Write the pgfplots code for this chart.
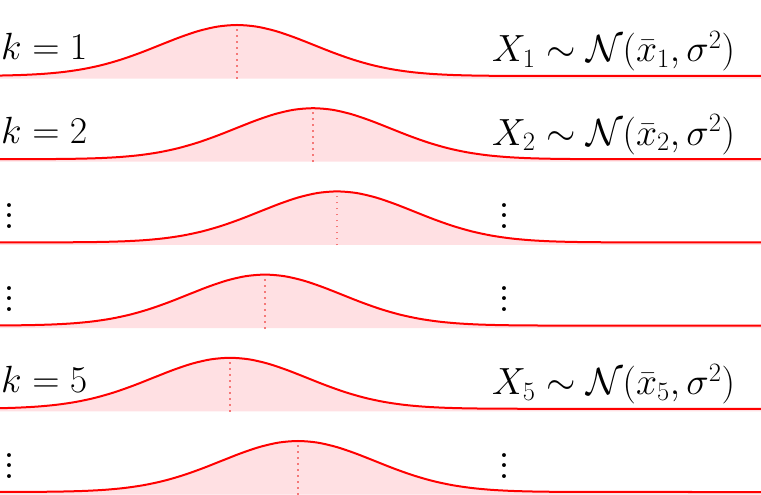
\documentclass[border=0pt]{standalone}
\usepackage{fix-cm}
\usepackage{pgfplots}
\usepackage{pgfplotstable}
\pgfplotsset{compat=1.18}

\definecolor{curvered}{RGB}{255,0,0}
\definecolor{pinkfill}{RGB}{255,224,227}
\definecolor{meanline}{RGB}{245,120,120}

% standard bell shape, z in sigma units, g = exp(-z^2/2)
\pgfplotstableread{
z g
-7 0
-5 0
-4.5 0.00004
-4 0.00034
-3.75 0.00088
-3.5 0.00219
-3.25 0.00509
-3 0.01111
-2.75 0.02279
-2.5 0.04394
-2.25 0.07956
-2 0.13534
-1.75 0.21627
-1.5 0.32465
-1.25 0.45783
-1 0.60653
-0.75 0.75484
-0.5 0.88250
-0.25 0.96923
0 1
0.25 0.96923
0.5 0.88250
0.75 0.75484
1 0.60653
1.25 0.45783
1.5 0.32465
1.75 0.21627
2 0.13534
2.25 0.07956
2.5 0.04394
2.75 0.02279
3 0.01111
3.25 0.00509
3.5 0.00219
3.75 0.00088
4 0.00034
4.5 0.00004
5 0
7 0
}\bell

% same shape closed along the bottom, for the shaded area
\pgfplotstableread{
z g
-7 -0.05
-7 0
-5 0
-4.5 0.00004
-4 0.00034
-3.75 0.00088
-3.5 0.00219
-3.25 0.00509
-3 0.01111
-2.75 0.02279
-2.5 0.04394
-2.25 0.07956
-2 0.13534
-1.75 0.21627
-1.5 0.32465
-1.25 0.45783
-1 0.60653
-0.75 0.75484
-0.5 0.88250
-0.25 0.96923
0 1
0.25 0.96923
0.5 0.88250
0.75 0.75484
1 0.60653
1.25 0.45783
1.5 0.32465
1.75 0.21627
2 0.13534
2.25 0.07956
2.5 0.04394
2.75 0.02279
3 0.01111
3.25 0.00509
3.5 0.00219
3.75 0.00088
4 0.00034
4.5 0.00004
5 0
7 0
7 -0.05
}\bellfill

\newcommand{\bigfont}{\fontsize{38}{40}\selectfont}
\newcommand{\vd}{\vbox{\fontsize{48}{48}\selectfont\baselineskip10.5bp\lineskiplimit-20bp\hbox{.}\hbox{.}\hbox{.}}}

\begin{document}
\begin{tikzpicture}
\begin{axis}[
    hide axis,
    scale only axis,
    width=761bp, height=495bp,
    xmin=0, xmax=761, ymin=0, ymax=495,
    enlargelimits=false,
]
% shaded areas
\addplot[fill=pinkfill, draw=none] table[x expr=237+77*\thisrow{z}, y expr=419+51*\thisrow{g}] {\bellfill};
\addplot[fill=pinkfill, draw=none] table[x expr=313+77*\thisrow{z}, y expr=335.8+51*\thisrow{g}] {\bellfill};
\addplot[fill=pinkfill, draw=none] table[x expr=337+77*\thisrow{z}, y expr=252.6+51*\thisrow{g}] {\bellfill};
\addplot[fill=pinkfill, draw=none] table[x expr=265+77*\thisrow{z}, y expr=169.4+51*\thisrow{g}] {\bellfill};
\addplot[fill=pinkfill, draw=none] table[x expr=230+77*\thisrow{z}, y expr=86.2+51*\thisrow{g}] {\bellfill};
\addplot[fill=pinkfill, draw=none] table[x expr=298+77*\thisrow{z}, y expr=3+51*\thisrow{g}] {\bellfill};

% mean lines
\addplot[meanline, line width=1.8bp, dash pattern=on 1.8bp off 4.2bp] coordinates {(237,416) (237,469)};
\addplot[meanline, line width=1.8bp, dash pattern=on 1.8bp off 4.2bp] coordinates {(313,332.8) (313,385.8)};
\addplot[meanline, line width=1.8bp, dash pattern=on 1.8bp off 4.2bp] coordinates {(337,249.6) (337,302.6)};
\addplot[meanline, line width=1.8bp, dash pattern=on 1.8bp off 4.2bp] coordinates {(265,166.4) (265,219.4)};
\addplot[meanline, line width=1.8bp, dash pattern=on 1.8bp off 4.2bp] coordinates {(230,83.2) (230,136.2)};
\addplot[meanline, line width=1.8bp, dash pattern=on 1.8bp off 4.2bp] coordinates {(298,0) (298,53)};

% curves
\addplot[curvered, line width=2bp, smooth] table[x expr=237+77*\thisrow{z}, y expr=419+51*\thisrow{g}] {\bell};
\addplot[curvered, line width=2bp, smooth] table[x expr=313+77*\thisrow{z}, y expr=335.8+51*\thisrow{g}] {\bell};
\addplot[curvered, line width=2bp, smooth] table[x expr=337+77*\thisrow{z}, y expr=252.6+51*\thisrow{g}] {\bell};
\addplot[curvered, line width=2bp, smooth] table[x expr=265+77*\thisrow{z}, y expr=169.4+51*\thisrow{g}] {\bell};
\addplot[curvered, line width=2bp, smooth] table[x expr=230+77*\thisrow{z}, y expr=86.2+51*\thisrow{g}] {\bell};
\addplot[curvered, line width=2bp, smooth] table[x expr=298+77*\thisrow{z}, y expr=3+51*\thisrow{g}] {\bell};

% labels
\node[anchor=base west, inner sep=0] at (axis cs:1,435) {\bigfont $k=1$};
\node[anchor=base west, inner sep=0] at (axis cs:1,351.8) {\bigfont $k=2$};
\node[anchor=base west, inner sep=0] at (axis cs:1,102.2) {\bigfont $k=5$};
\node[anchor=base west, inner sep=0] at (axis cs:492,433) {\bigfont $X_1\sim\mathcal{N}(\bar{x}_1,\sigma^2)$};
\node[anchor=base west, inner sep=0] at (axis cs:492,349.8) {\bigfont $X_2\sim\mathcal{N}(\bar{x}_2,\sigma^2)$};
\node[anchor=base west, inner sep=0] at (axis cs:492,100.2) {\bigfont $X_5\sim\mathcal{N}(\bar{x}_5,\sigma^2)$};

\node[anchor=north, inner sep=0] at (axis cs:9,292) {\vd};
\node[anchor=north, inner sep=0] at (axis cs:9,209) {\vd};
\node[anchor=north, inner sep=0] at (axis cs:9,42) {\vd};
\node[anchor=north, inner sep=0] at (axis cs:504,292) {\vd};
\node[anchor=north, inner sep=0] at (axis cs:504,209) {\vd};
\node[anchor=north, inner sep=0] at (axis cs:504,42) {\vd};
\end{axis}
\pgfresetboundingbox
\path (current axis.south west) rectangle (current axis.north east);
\end{tikzpicture}
\end{document}
